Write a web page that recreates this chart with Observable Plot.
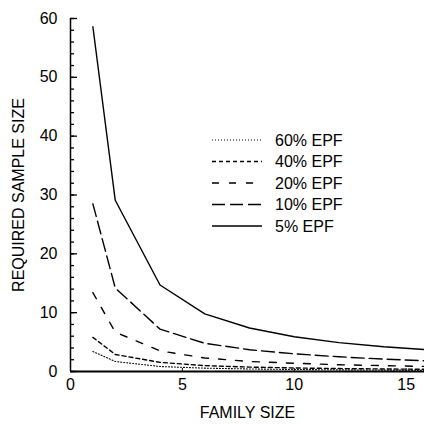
<!DOCTYPE html>
<html>
<head>
<meta charset="utf-8">
<script src="https://cdn.jsdelivr.net/npm/d3@7"></script>
<script src="https://cdn.jsdelivr.net/npm/@observablehq/plot@0.6"></script>
<style>
  html, body { margin: 0; padding: 0; background: white; overflow: hidden; }
  #wrap { position: relative; width: 424px; height: 425px; }
  #legend { position: absolute; left: 0; top: 0; }
</style>
</head>
<body>
<div id="wrap"></div>
<script>
// ---- data ----
const familySize = [1, 2, 4, 6, 8, 10, 12, 14, 16];
const epf5  = [58.6, 29.1, 14.7, 9.8, 7.4, 5.9, 4.9, 4.2, 3.7];
const epf10 = [28.5, 14.2, 7.2, 4.8, 3.7, 3.0, 2.5, 2.1, 1.8];
const epf20 = [13.4, 6.7, 3.5, 2.3, 1.7, 1.4, 1.15, 1.0, 0.85];
const epf40 = [5.8, 2.9, 1.55, 1.0, 0.75, 0.6, 0.5, 0.43, 0.37];
const epf60 = [3.4, 1.7, 0.85, 0.57, 0.43, 0.34, 0.28, 0.24, 0.21];
const seriesNames = ["60% EPF", "40% EPF", "20% EPF", "10% EPF", "5% EPF"];
const seriesValues = [epf60, epf40, epf20, epf10, epf5];
const xTicks = [0, 5, 10, 15];
const yTicks = [0, 10, 20, 30, 40, 50, 60];
const yMinorTicks = d3.range(0, 61, 2);
const xLabel = "FAMILY SIZE";
const yLabel = "REQUIRED SAMPLE SIZE";

// ---- styles ----
const dashes = {
  "60% EPF": {dash: "1,2", width: 1.1},
  "40% EPF": {dash: "4,3", width: 1.4},
  "20% EPF": {dash: "7,10", width: 1.4},
  "10% EPF": {dash: "13,5", width: 1.4},
  "5% EPF":  {dash: null, width: 1.4}
};

const rows = [];
seriesNames.forEach((s, i) => familySize.forEach((f, j) => rows.push({series: s, x: f, y: seriesValues[i][j]})));

const font = "'Liberation Sans', Arial, Helvetica, sans-serif";

const lineMarks = seriesNames.map(s => Plot.line(rows.filter(r => r.series === s), {
  x: "x", y: "y", stroke: "black", strokeWidth: dashes[s].width,
  strokeDasharray: dashes[s].dash, clip: "frame"
}));

const chart = Plot.plot({
  width: 424,
  height: 425,
  marginLeft: 70,
  marginRight: 0,
  marginTop: 18,
  marginBottom: 54,
  x: {domain: [0, 16], range: [70, 428]},
  y: {domain: [0, 60], range: [371, 18]},
  style: {fontFamily: font, fontSize: "16px", background: "white", color: "black"},
  marks: [
    ...lineMarks,
    Plot.axisY(yMinorTicks, {tickSize: -4, tickFormat: () => "", label: null, strokeWidth: 1.3}),
    Plot.axisY(yTicks, {tickSize: -7, tickPadding: 20, label: null, fontSize: 16, strokeWidth: 1.3}),
    Plot.axisX(xTicks, {tickSize: -3, tickPadding: 10, label: null, fontSize: 16}),
    Plot.ruleX([0], {y1: 0, y2: 60, stroke: "black", strokeWidth: 1.5}),
    Plot.ruleY([0], {stroke: "black", strokeWidth: 2}),
    Plot.text([yLabel], {text: d => d, frameAnchor: "left", textAnchor: "middle", lineAnchor: "middle", rotate: -90, dx: -52, fontSize: 16}),
    Plot.text([xLabel], {text: d => d, frameAnchor: "bottom", textAnchor: "middle", lineAnchor: "middle", dy: 41, fontSize: 16})
  ]
});
const wrap = document.getElementById("wrap");
wrap.appendChild(chart);

// ---- legend (overlay) ----
const ns = "http://www.w3.org/2000/svg";
const leg = document.createElementNS(ns, "svg");
leg.setAttribute("id", "legend");
leg.setAttribute("width", 424);
leg.setAttribute("height", 425);
seriesNames.forEach((s, i) => {
  const y = 140 + i * 21.5;
  const ln = document.createElementNS(ns, "line");
  ln.setAttribute("x1", 212); ln.setAttribute("x2", 262);
  ln.setAttribute("y1", y); ln.setAttribute("y2", y);
  ln.setAttribute("stroke", "black");
  ln.setAttribute("stroke-width", dashes[s].width);
  if (dashes[s].dash) ln.setAttribute("stroke-dasharray", dashes[s].dash);
  leg.appendChild(ln);
  const t = document.createElementNS(ns, "text");
  t.setAttribute("x", 275); t.setAttribute("y", y);
  t.setAttribute("dy", "0.35em");
  t.setAttribute("font-family", font);
  t.setAttribute("font-size", 16);
  t.textContent = s;
  leg.appendChild(t);
});
wrap.appendChild(leg);
</script>
</body>
</html>
